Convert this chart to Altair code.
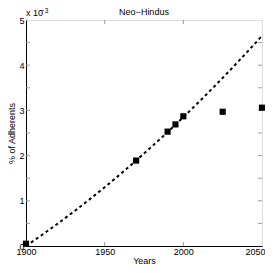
import altair as alt
import pandas as pd

# observed data (% of adherents, in units of 1e-3)
obs_years = [1900, 1970, 1990, 1995, 2000, 2025, 2050]
obs_vals = [0.05, 1.89, 2.53, 2.69, 2.87, 2.97, 3.06]

# fitted curve
fit_years = [1900, 1910, 1920, 1930, 1940, 1950, 1960, 1970, 1980, 1990,
             2000, 2010, 2020, 2030, 2040, 2050]
fit_vals = [0.0, 0.24, 0.49, 0.75, 1.02, 1.30, 1.59, 1.89, 2.20, 2.52,
            2.85, 3.19, 3.54, 3.90, 4.27, 4.65]

x_ticks = [1900, 1950, 2000, 2050]
y_ticks = [0, 0.5, 1, 1.5, 2, 2.5, 3, 3.5, 4, 4.5, 5]
title_text = "Neo−Hindus"

obs = pd.DataFrame({"year": obs_years, "val": obs_vals})
fit = pd.DataFrame({"year": fit_years, "val": fit_vals})

FONT = "Liberation Sans Narrow, Liberation Sans"
xs = alt.Scale(domain=[1900, 2050], nice=False, zero=False)
ys = alt.Scale(domain=[0, 5], nice=False)

xaxis = alt.Axis(values=x_ticks, format="d", title="Years", grid=False,
                 ticks=False, labelFontSize=9, titleFontSize=9,
                 labelFont=FONT, titleFont=FONT, labelColor="black",
                 titleColor="black", domainColor="black", labelPadding=1,
                 titlePadding=0, titleFontWeight="normal", labelFlush=False,
                 labelAlign=alt.ConditionalAxisLabelAlign(
                     condition={"test": "datum.value == 2050", "value": "right"},
                     value="center"),
                 labelOffset=alt.ConditionalAxisNumber(
                     condition={"test": "datum.value == 2050", "value": 3},
                     value=0))
yaxis = alt.Axis(values=y_ticks, title="% of Adherents", grid=False,
                 ticks=False, labelFontSize=9, titleFontSize=9,
                 labelFont=FONT, titleFont=FONT, labelColor="black",
                 titleColor="black", domainColor="black", labelPadding=2,
                 titlePadding=2, titleFontWeight="normal", labelFlush=False)

line = alt.Chart(fit).mark_line(color="black", strokeWidth=2,
                                strokeDash=[3, 3]).encode(
    x=alt.X("year:Q", scale=xs, axis=xaxis),
    y=alt.Y("val:Q", scale=ys, axis=yaxis),
)

pts = alt.Chart(obs).mark_square(color="black", size=38, opacity=1).encode(
    x=alt.X("year:Q", scale=xs),
    y=alt.Y("val:Q", scale=ys),
)

# inward ticks (matlab-style) on all four sides
xt = pd.DataFrame({"year": x_ticks[1:-1]})
xt_bot = alt.Chart(xt).mark_rule(color="#999", strokeWidth=1).encode(
    x="year:Q", y=alt.datum(0), y2=alt.datum(0.09))
xt_top = alt.Chart(xt).mark_rule(color="#999", strokeWidth=1).encode(
    x="year:Q", y=alt.datum(5), y2=alt.datum(4.91))
yt = pd.DataFrame({"val": y_ticks[1:-1]})
yt_left = alt.Chart(yt).mark_rule(color="#999", strokeWidth=1).encode(
    y="val:Q", x=alt.datum(1900), x2=alt.datum(1902.5))
yt_right = alt.Chart(yt).mark_rule(color="#999", strokeWidth=1).encode(
    y="val:Q", x=alt.datum(2050), x2=alt.datum(2047.5))

anchor = pd.DataFrame({"year": [1900], "val": [5]})
expo = alt.Chart(anchor).mark_text(
    text="x 10", font=FONT, fontSize=9, align="left", baseline="alphabetic",
    dx=0, dy=-4, color="black").encode(x="year:Q", y="val:Q")
expo2 = alt.Chart(anchor).mark_text(
    text="−3", font=FONT, fontSize=6.5, align="left", baseline="alphabetic",
    dx=15, dy=-7, color="black").encode(x="year:Q", y="val:Q")

title_df = pd.DataFrame({"year": [1975], "val": [5], "t": [title_text]})
title = alt.Chart(title_df).mark_text(
    font=FONT, fontSize=9, align="center", baseline="alphabetic",
    dy=-5, color="black").encode(x="year:Q", y="val:Q", text="t:N")

chart = alt.layer(xt_bot, xt_top, yt_left, yt_right, line, pts, expo, expo2,
                  title).properties(
    width=236, height=226,
    autosize=alt.AutoSizeParams(type="none"),
    padding={"left": 18, "top": 12, "right": 3, "bottom": 19},
).configure_view(stroke="black", strokeWidth=1).configure(background="white")

chart.save("out.html", embed_options={"renderer": "svg", "actions": False})
